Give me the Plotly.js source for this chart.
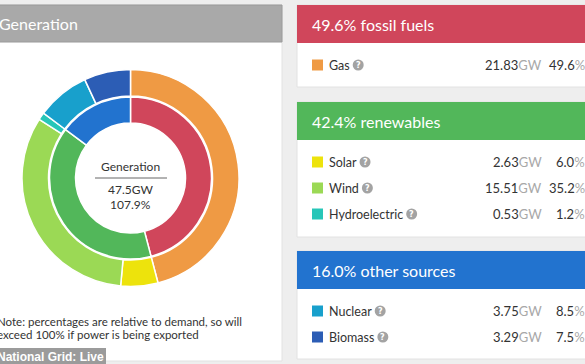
<!DOCTYPE html>
<html>
<head>
<meta charset="utf-8">
<script src="https://cdn.plot.ly/plotly-3.0.1.min.js"></script>
<style>
html,body{margin:0;padding:0;background:#eeeeee;}
#chart{width:585px;height:364px;}
</style>
</head>
<body>
<div id="chart"></div>
<script>
// ---- data ----
const sources = ['Gas', 'Solar', 'Wind', 'Hydroelectric', 'Nuclear', 'Biomass'];
const sourceGW = [21.83, 2.63, 15.51, 0.53, 3.75, 3.29];
const sourcePct = [49.6, 6.0, 35.2, 1.2, 8.5, 7.5];
const sourceGroup = [0, 1, 1, 1, 2, 2];
const groups = ['fossil fuels', 'renewables', 'other sources'];
const groupGW = [21.83, 18.67, 7.04];
const groupPct = [49.6, 42.4, 16.0];
const totalGW = 47.5;
const totalPct = 107.9;

// ---- styles ----
const sourceColors = ['#ef9a44', '#ede30c', '#9bd955', '#27c6b8', '#18a0cc', '#2c5db5'];
const groupColors = ['#d0465b', '#52b75a', '#2273cf'];
const W = 585, H = 364;
const px = x => x / W, py = y => 1 - y / H;
const FONT = 'Lato, "Open Sans", sans-serif';

// donut geometry (pixels)
const cx = 130.5, cy = 178, rOut = 108.5, rMid = 82, rIn = 55;

const traces = [
  {
    type: 'pie', values: sourceGW, labels: sources, sort: false, direction: 'clockwise', rotation: 0,
    hole: rMid / rOut, textinfo: 'none', hoverinfo: 'none', showlegend: false,
    marker: {colors: sourceColors, line: {color: '#ffffff', width: 1.5}},
    domain: {x: [px(cx - rOut), px(cx + rOut)], y: [py(cy + rOut), py(cy - rOut)]}
  },
  {
    type: 'pie', values: groupGW, labels: groups, sort: false, direction: 'clockwise', rotation: 0,
    hole: rIn / (rMid - 1), textinfo: 'none', hoverinfo: 'none', showlegend: false,
    marker: {colors: groupColors, line: {color: '#ffffff', width: 1.5}},
    domain: {x: [px(cx - rMid + 1), px(cx + rMid - 1)], y: [py(cy + rMid - 1), py(cy - rMid + 1)]}
  }
];

const shapes = [];
const annotations = [];
function rect(x0, y0, x1, y1, fill, line) {
  shapes.push({type: 'rect', xref: 'paper', yref: 'paper', layer: 'below',
    x0: px(x0), x1: px(x1), y0: py(y1), y1: py(y0), fillcolor: fill,
    line: line ? {color: line, width: 1} : {width: 0}});
}
function text(t, x, y, opts) {
  annotations.push(Object.assign({xref: 'paper', yref: 'paper', x: px(x), y: py(y), text: t,
    showarrow: false, xanchor: 'left', yanchor: 'middle', borderpad: 0,
    font: {family: FONT, size: 13, color: '#333333'}}, opts || {}));
}
const ctx = document.createElement('canvas').getContext('2d');
function textWidth(t, size) {
  ctx.font = size + 'px Lato';
  return ctx.measureText(t).width;
}

// left card
rect(-5, 5, 282, 361, '#ffffff', '#e2e2e2');
rect(-5, 5, 282, 42, '#a9a9a9', '#9a9a9a');
text('Generation', -2, 24, {font: {family: FONT, size: 16, color: '#ffffff'}});

// centre label
text('Generation', cx, 167, {xanchor: 'center', font: {family: FONT, size: 12, color: '#333'}});
shapes.push({type: 'line', xref: 'paper', yref: 'paper', x0: px(95), x1: px(167), y0: py(178), y1: py(178),
  line: {color: '#666', width: 1}});
text(totalGW.toFixed(1) + 'GW', cx, 189, {xanchor: 'center', font: {family: FONT, size: 12, color: '#333'}});
text(totalPct.toFixed(1) + '%', cx, 204, {xanchor: 'center', font: {family: FONT, size: 12, color: '#333'}});

// note
text('Note: percentages are relative to demand, so will', -4, 321, {font: {family: FONT, size: 11.5, color: '#333'}});
text('exceed 100% if power is being exported', -4, 334, {font: {family: FONT, size: 11.5, color: '#333'}});

// National Grid label
rect(-5, 348, 106, 366, '#9b9b9b');
text('<b>National Grid: Live</b>', -4, 356.5, {font: {family: '"Liberation Sans", Arial, sans-serif', size: 12, color: '#ffffff'}});

// right panels
const panels = [
  {top: 5, bottom: 87, rows: [65]},
  {top: 102, bottom: 237, rows: [162, 188, 214]},
  {top: 251, bottom: 359, rows: [311, 337]}
];
panels.forEach((p, g) => {
  rect(297, p.top, 592, p.bottom, '#ffffff', '#e2e2e2');
  rect(297, p.top, 592, p.top + 38, groupColors[g]);
  text(groupPct[g].toFixed(1) + '% ' + groups[g], 311, p.top + 19.5,
    {font: {family: FONT, size: 16, color: '#ffffff'}});
});
const rowIdx = [0, 0, 0];
const LABEL_SIZE = 12.5;
sources.forEach((s, i) => {
  const g = sourceGroup[i];
  const y = panels[g].rows[rowIdx[g]++];
  rect(312, y - 5.5, 323, y + 5.5, sourceColors[i]);
  text(s, 328, y, {font: {family: FONT, size: LABEL_SIZE, color: '#333'}});
  const qx = 329 + textWidth(s, LABEL_SIZE) + 8.5;
  shapes.push({type: 'circle', xref: 'paper', yref: 'paper', layer: 'below',
    x0: px(qx - 5.5), x1: px(qx + 5.5), y0: py(y + 5.5), y1: py(y - 5.5),
    fillcolor: '#a3a3a3', line: {width: 0}});
  text('<b>?</b>', qx, y, {xanchor: 'center', font: {family: '"DejaVu Sans", sans-serif', size: 8, color: '#ffffff'}});
  text(sourceGW[i].toFixed(2) + '<span style="color:#a8a8a8">GW</span>', 543, y,
    {xanchor: 'right', font: {family: FONT, size: 13, color: '#333'}});
  text(sourcePct[i].toFixed(1) + '<span style="color:#a8a8a8">%</span>', 586, y,
    {xanchor: 'right', font: {family: FONT, size: 13, color: '#333'}});
});

const layout = {
  width: W, height: H,
  margin: {l: 0, r: 0, t: 0, b: 0},
  paper_bgcolor: '#eeeeee', plot_bgcolor: '#eeeeee',
  showlegend: false,
  shapes: shapes,
  annotations: annotations
};
Plotly.newPlot('chart', traces, layout, {staticPlot: true, displayModeBar: false});
</script>
</body>
</html>
